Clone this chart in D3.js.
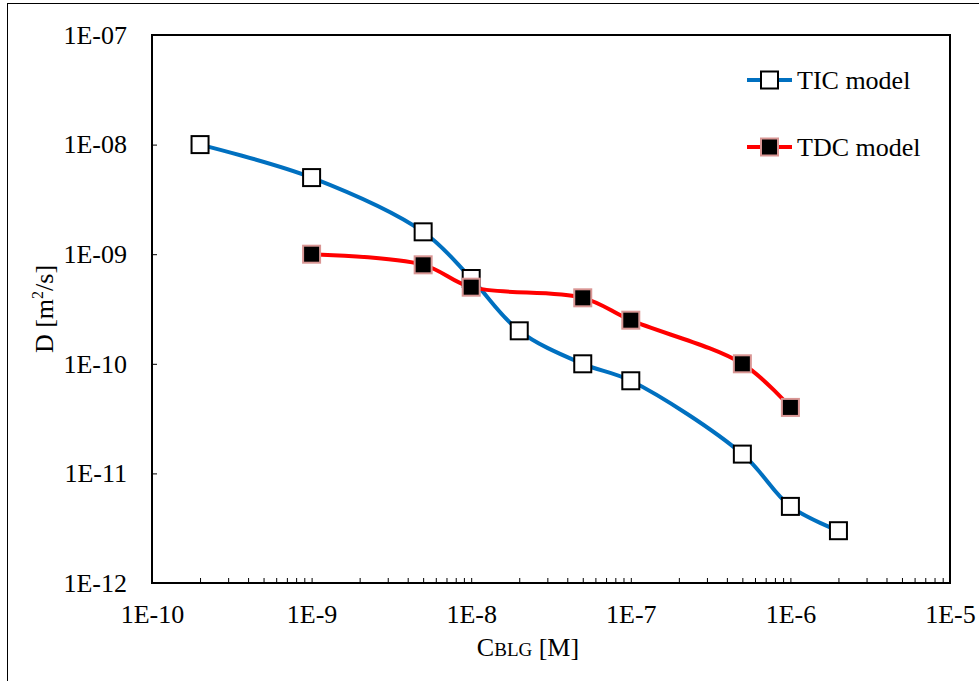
<!DOCTYPE html>
<html lang="en">
<head>
    <meta charset="UTF-8">
    <title>D vs CBLG</title>
    <style>
        body { margin: 0; background: #fff; }
        text { font-family: "Liberation Serif", "Times New Roman", serif; fill: #000; }
    </style>
</head>
<body>
<script src="https://cdn.jsdelivr.net/npm/d3@7/dist/d3.min.js"></script>
<script>
    // data
    var ticC = [2e-10, 1e-9, 5e-9, 1e-8, 2e-8, 5e-8, 1e-7, 5e-7, 1e-6, 2e-6];
    var ticD = [1e-8, 5e-9, 1.6e-9, 6e-10, 2e-10, 1e-10, 7e-11, 1.5e-11, 5e-12, 3e-12];
    var tdcC = [1e-9, 5e-9, 1e-8, 5e-8, 1e-7, 5e-7, 1e-6];
    var tdcD = [1e-9, 8e-10, 5e-10, 4e-10, 2.5e-10, 1e-10, 4e-11];
    var xTicks = [1e-10, 1e-9, 1e-8, 1e-7, 1e-6, 1e-5];
    var xTickLabels = ["1E-10", "1E-9", "1E-8", "1E-7", "1E-6", "1E-5"];
    var yTicks = [1e-12, 1e-11, 1e-10, 1e-9, 1e-8, 1e-7];
    var yTickLabels = ["1E-12", "1E-11", "1E-10", "1E-09", "1E-08", "1E-07"];
    var seriesNames = ["TIC model", "TDC model"];

    var width = 979,
        height = 681;
    // plot area (window.top is reserved, so use other names)
    var pLeft = 152, pRight = 950, pTop = 35, pBottom = 583;

    var svg = d3.select("body").append("svg")
        .attr("width", width)
        .attr("height", height);

    // outer chart border
    svg.append("rect")
        .attr("x", 7.5).attr("y", 3.5)
        .attr("width", width).attr("height", height)
        .attr("fill", "none").attr("stroke", "#000").attr("stroke-width", 1);

    var x = d3.scaleLog().domain([1e-10, 1e-5]).range([pLeft, pRight]);
    var y = d3.scaleLog().domain([1e-12, 1e-7]).range([pBottom, pTop]);

    // minor ticks on x (inside)
    var minor = [];
    xTicks.slice(0, -1).forEach(function(t){
        for (var k = 2; k <= 9; k++) minor.push(t * k);
    });

    var xAxis = svg.append("g")
        .attr("transform", "translate(0," + pBottom + ")")
        .call(d3.axisBottom(x).tickValues(minor).tickSize(-5).tickFormat(""));
    xAxis.select(".domain").remove();
    xAxis.selectAll("line").attr("stroke", "#000").attr("stroke-width", 1);

    var xAxisMaj = svg.append("g")
        .attr("transform", "translate(0," + pBottom + ")")
        .call(d3.axisBottom(x).tickValues(xTicks).tickSize(-5)
            .tickFormat(function(d, i){ return xTickLabels[i]; }));
    xAxisMaj.select(".domain").remove();
    xAxisMaj.selectAll("line").attr("stroke", "#000").attr("stroke-width", 1);
    xAxisMaj.selectAll("text").attr("font-size", 26).attr("dy", null)
        .attr("y", 40).style("font-family", "Liberation Serif");

    var yAxis = svg.append("g")
        .attr("transform", "translate(" + pLeft + ",0)")
        .call(d3.axisLeft(y).tickValues(yTicks).tickSize(-5)
            .tickFormat(function(d, i){ return yTickLabels[i]; }));
    yAxis.select(".domain").remove();
    yAxis.selectAll("line").attr("stroke", "#000").attr("stroke-width", 1);
    yAxis.selectAll("text").attr("font-size", 26).attr("x", -25)
        .style("font-family", "Liberation Serif");

    // plot frame
    svg.append("rect")
        .attr("x", pLeft).attr("y", pTop)
        .attr("width", pRight - pLeft).attr("height", pBottom - pTop)
        .attr("fill", "none").attr("stroke", "#000").attr("stroke-width", 2);

    // axis titles
    var yt = svg.append("text")
        .attr("transform", "translate(53," + ((pTop + pBottom) / 2) + ") rotate(-90)")
        .attr("text-anchor", "middle")
        .attr("font-size", 26)
        .attr("fill", "#000");
    yt.append("tspan").text("D [m");
    yt.append("tspan").attr("font-size", 16).attr("dy", -10).text("2");
    yt.append("tspan").attr("dy", 10).text("/s]");

    var xt = svg.append("text")
        .attr("x", 528).attr("y", 656)
        .attr("text-anchor", "middle")
        .attr("font-size", 26);
    xt.append("tspan").text("C");
    xt.append("tspan").attr("font-size", 19).text("BLG");
    xt.append("tspan").text(" [M]");

    var line = d3.line()
        .x(function(d){ return x(d[0]); })
        .y(function(d){ return y(d[1]); })
        .curve(d3.curveCatmullRom.alpha(0.5));

    var tic = ticC.map(function(c, i){ return [c, ticD[i]]; });
    var tdc = tdcC.map(function(c, i){ return [c, tdcD[i]]; });

    var series = [
        {name: seriesNames[0], pts: tic, color: "#0070C0", fill: "#fff", mstroke: "#000"},
        {name: seriesNames[1], pts: tdc, color: "#FF0000", fill: "#000", mstroke: "#d99694"}
    ];

    var ms = 17;
    series.forEach(function(s){
        svg.append("path")
            .attr("d", line(s.pts))
            .attr("fill", "none")
            .attr("stroke", s.color)
            .attr("stroke-width", 4);
    });
    series.forEach(function(s){
        svg.selectAll(null).data(s.pts).enter().append("rect")
            .attr("x", function(d){ return x(d[0]) - ms / 2; })
            .attr("y", function(d){ return y(d[1]) - ms / 2; })
            .attr("width", ms).attr("height", ms)
            .attr("fill", s.fill)
            .attr("stroke", s.mstroke)
            .attr("stroke-width", 2);
    });

    // legend
    var lg = svg.append("g");
    series.forEach(function(s, i){
        var ly = 80 + i * 67;
        lg.append("line")
            .attr("x1", 747).attr("x2", 792).attr("y1", ly).attr("y2", ly)
            .attr("stroke", s.color).attr("stroke-width", 4);
        lg.append("rect")
            .attr("x", 769.5 - ms / 2).attr("y", ly - ms / 2)
            .attr("width", ms).attr("height", ms)
            .attr("fill", s.fill).attr("stroke", s.mstroke).attr("stroke-width", 2);
        lg.append("text")
            .attr("x", 797).attr("y", ly).attr("dy", "0.35em")
            .attr("font-size", 26)
            .text(s.name);
    });
</script>
</body>
</html>
